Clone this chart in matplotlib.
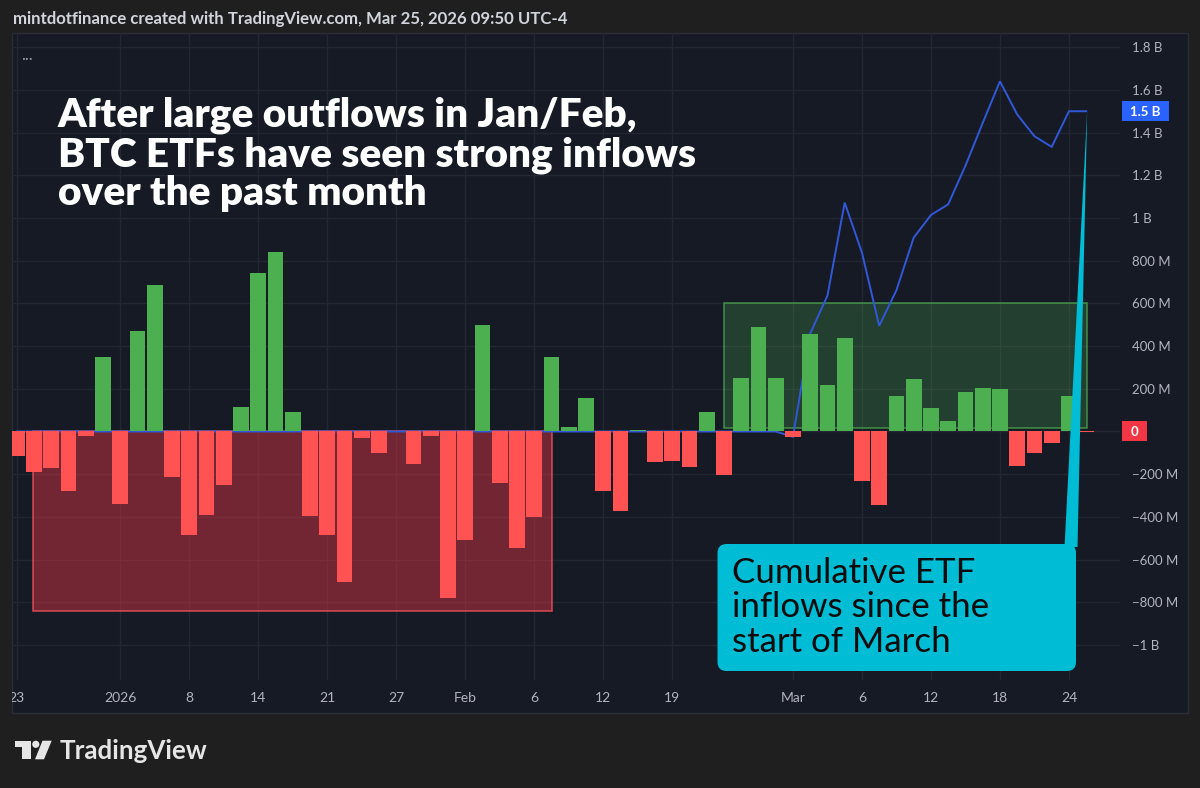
import matplotlib
matplotlib.use("Agg")
import matplotlib.pyplot as plt
from matplotlib.patches import Rectangle, FancyBboxPatch, Polygon, Circle
from matplotlib.transforms import IdentityTransform, blended_transform_factory
import numpy as np

# ---------------- data ----------------
dates = ["Dec 23", "Dec 24", "Dec 26", "Dec 29", "Dec 30", "Dec 31",
         "Jan 2", "Jan 5", "Jan 6", "Jan 7", "Jan 8", "Jan 9", "Jan 12", "Jan 13",
         "Jan 14", "Jan 15", "Jan 16", "Jan 20", "Jan 21", "Jan 22", "Jan 23",
         "Jan 26", "Jan 27", "Jan 28", "Jan 29", "Jan 30",
         "Feb 2", "Feb 3", "Feb 4", "Feb 5", "Feb 6", "Feb 9", "Feb 10", "Feb 11",
         "Feb 12", "Feb 13", "Feb 17", "Feb 18", "Feb 19", "Feb 20", "Feb 23",
         "Feb 24", "Feb 25", "Feb 26", "Feb 27",
         "Mar 2", "Mar 3", "Mar 4", "Mar 5", "Mar 6", "Mar 9", "Mar 10", "Mar 11",
         "Mar 12", "Mar 13", "Mar 16", "Mar 17", "Mar 18", "Mar 19", "Mar 20",
         "Mar 23", "Mar 24", "Mar 25"]

# daily net ETF flows, millions USD
flows_m = [-115, -190, -171, -279, -22, 350,
           -338, 472, 688, -214, -487, -393, -249, 114,
           743, 843, 92, -396, -483, -705, -31,
           -103, 0, -150, -19, -779,
           -506, 499, -240, -545, -400, 350, 20, 159,
           -277, -374, 9, -142, -137, -165, 92,
           -202, 251, 488, 251,
           -28, 455, 218, 439, -232, -343, 164, 246,
           112, 51, 184, 204, 200, -162, -100,
           -55, 168, -3]

# cumulative inflows since start of March, billions USD (flat 0 before)
cum_pre_b = [0.0] * 44
cum_march_b = [0.0, -0.025, 0.459, 0.636, 1.072, 0.838, 0.495, 0.662, 0.908,
               1.014, 1.064, 1.245, 1.445, 1.640, 1.485, 1.383, 1.333, 1.500, 1.500]
cum_b = cum_pre_b + cum_march_b

tick_dates = ["Dec 23", "Jan 2", "Jan 8", "Jan 14", "Jan 21", "Jan 27", "Feb 2",
              "Feb 6", "Feb 12", "Feb 19", "Mar 2", "Mar 6", "Mar 12", "Mar 18", "Mar 24"]
tick_labels = ["23", "2026", "8", "14", "21", "27", "Feb", "6", "12", "19",
               "Mar", "6", "12", "18", "24"]

y_tick_vals = [1.8, 1.6, 1.4, 1.2, 1.0, 0.8, 0.6, 0.4, 0.2,
               -0.2, -0.4, -0.6, -0.8, -1.0]
y_tick_labels = ["1.8 B", "1.6 B", "1.4 B", "1.2 B", "1 B", "800 M", "600 M",
                 "400 M", "200 M", "\u2212200 M", "\u2212400 M", "\u2212600 M",
                 "\u2212800 M", "\u22121 B"]

title_lines = ["After large outflows in Jan/Feb,",
               "BTC ETFs have seen strong inflows",
               "over the past month"]
callout_lines = ["Cumulative ETF", "inflows since the", "start of March"]
header = "mintdotfinance created with TradingView.com, Mar 25, 2026 09:50 UTC-4"

# ---------------- style ----------------
FONT = ["Lato", "DejaVu Sans"]
plt.rcParams["font.family"] = FONT
OUTER = "#1f1f1f"
PANEL = "#161a25"
GRID = "#232733"
RED = "#ff5252"
GREEN = "#4caf50"
BLUE = "#3158d8"
CYAN = "#00bcd4"
AXTXT = "#b2b5be"

W, H = 1200, 788
fig = plt.figure(figsize=(12, 7.88), dpi=100, facecolor=OUTER)


def fx(x):
    return x / W


def fy(y):
    return 1 - y / H


# panel background
panel = Rectangle((12, H - 713), 1176, 680, transform=IdentityTransform(),
                  facecolor=PANEL, edgecolor="#2a2e39", lw=1, zorder=-5)
fig.add_artist(panel)

ax = fig.add_axes([fx(12), fy(680), (1120 - 12) / W, (680 - 33) / H])
ax.set_facecolor("none")
for s in ax.spines.values():
    s.set_visible(False)

x = np.arange(len(dates))
ax.set_xlim(-0.275, 63.96)
ax.set_ylim(-1.164, 1.8665)

# grid
for v in y_tick_vals + [0.0]:
    ax.axhline(v, color=GRID, lw=1, zorder=0)
tick_pos = [dates.index(d) for d in tick_dates]
for p in tick_pos:
    ax.axvline(p, color=GRID, lw=1, zorder=0)

# highlight boxes
ax.add_patch(Rectangle((0.94, -0.841), 31.03 - 0.94, 0.841,
                       facecolor="#f23645", alpha=0.42, edgecolor="none", zorder=1))
ax.add_patch(Rectangle((0.94, -0.841), 31.03 - 0.94, 0.841,
                       facecolor="none", edgecolor="#f7525f", alpha=0.75, lw=1.2, zorder=1.1))
ax.add_patch(Rectangle((41.0, 0.018), 62.03 - 41.0, 0.582,
                       facecolor=GREEN, alpha=0.25, edgecolor="none", zorder=1))
ax.add_patch(Rectangle((41.0, 0.018), 62.03 - 41.0, 0.582,
                       facecolor="none", edgecolor=GREEN, alpha=0.7, lw=1.2, zorder=1.1))

# cumulative line (behind bars)
ax.plot(x, cum_b, color=BLUE, lw=1.4, zorder=3, solid_joinstyle="miter")

# bars
vals_b = np.array(flows_m) / 1000.0
colors = [GREEN if v > 0 else RED for v in flows_m]
ax.bar(x, vals_b, width=0.92, color=colors, zorder=4, linewidth=0)

# right price scale
ax.yaxis.tick_right()
ax.set_yticks(y_tick_vals)
ax.set_yticklabels(y_tick_labels)
ax.tick_params(axis="y", length=0, pad=8.6, labelcolor=AXTXT, labelsize=9.5)
ax.set_xticks([])

blend = blended_transform_factory(ax.transAxes, ax.transData)
axw = 1108.0
ppb = 647.0 / (1.8665 + 1.164)  # pixels per billion


def scale_label(val, text, color, x0px, wpx):
    hb = 20.0 / ppb
    ax.add_patch(Rectangle(((x0px - 12) / axw, val - hb / 2), wpx / axw, hb,
                           transform=blend, facecolor=color, edgecolor="none",
                           clip_on=False, zorder=7))
    ax.text((x0px + wpx / 2 - 12) / axw, val, text, transform=blend, color="white",
            ha="center", va="center_baseline", fontsize=9.5, fontweight="bold",
            clip_on=False, zorder=8)


scale_label(0.0, "0", "#f23645", 1122, 25)
scale_label(cum_b[-1], "1.5 B", "#2962ff", 1122, 47)

# time axis strip
axt = fig.add_axes([fx(12), fy(713), (1120 - 12) / W, (713 - 680) / H])
axt.set_xlim(ax.get_xlim())
axt.set_ylim(0, 1)
axt.axis("off")
for p, lab in zip(tick_pos, tick_labels):
    axt.text(p, (713 - 697) / 33.0, lab, ha="center", va="center_baseline",
             color=AXTXT, fontsize=10, clip_on=True)

# header and dots
t_head = fig.text(fx(12.7), fy(24), header, color="#d1d4dc", fontsize=11,
                  fontweight="bold", va="baseline", ha="left")
fig.text(fx(21), fy(60), "...", color="#9598a1", fontsize=12, va="baseline")

# title
title_base = [126.7, 166.0, 204.5]
title_txt = [fig.text(fx(58), fy(b), s, color="white", fontsize=26,
                      fontweight="heavy", va="baseline", ha="left", zorder=6)
             for s, b in zip(title_lines, title_base)]

# callout
tip = ax.transData.transform((x[-1], cum_b[-1]))
fig.add_artist(Polygon([(1064.5, H - 547), (1077.5, H - 547), (tip[0] + 1, tip[1] + 1)],
                       closed=True, transform=IdentityTransform(),
                       facecolor=CYAN, edgecolor="none", zorder=5))
fig.add_artist(FancyBboxPatch((717.5, H - 671), 358.5, 127,
                              boxstyle="round,pad=0,rounding_size=9",
                              transform=IdentityTransform(), facecolor=CYAN,
                              edgecolor="none", zorder=5))
call_base = [583.3, 617.3, 651.7]
call_txt = [fig.text(fx(731.7), fy(b), s, color="#0b0b0b", fontsize=22,
                     va="baseline", ha="left", zorder=6)
            for s, b in zip(callout_lines, call_base)]

# TradingView logo
LOGO = "#e6e6e6"
fig.add_artist(Polygon([(15, H - 740.7), (30.5, H - 740.7), (30.5, H - 759.3),
                        (22.3, H - 759.3), (22.3, H - 747), (15, H - 747)],
                       transform=IdentityTransform(), facecolor=LOGO,
                       edgecolor="none", zorder=5))
fig.add_artist(Circle((35.8, H - 744.3), 3.6, transform=IdentityTransform(),
                      facecolor=LOGO, edgecolor="none", zorder=5))
fig.add_artist(Polygon([(42.5, H - 740.7), (51.7, H - 740.7), (44.0, H - 759.3),
                        (35.0, H - 759.3)], transform=IdentityTransform(),
                       facecolor=LOGO, edgecolor="none", zorder=5))
t_logo = fig.text(fx(60), fy(759.3), "TradingView", color=LOGO, fontsize=18,
                  fontweight="bold", va="baseline", ha="left")

# fit text widths to the reference
fig.canvas.draw()
r = fig.canvas.get_renderer()


def fit(t, target, group=None):
    w = t.get_window_extent(r).width
    k = target / w
    for tt in (group or [t]):
        tt.set_fontsize(tt.get_fontsize() * k)


fit(t_head, 555)
fit(title_txt[1], 637, title_txt)
fit(call_txt[1], 256, call_txt)
fit(t_logo, 148)

fig.savefig("out.png", dpi=100, facecolor=OUTER)
